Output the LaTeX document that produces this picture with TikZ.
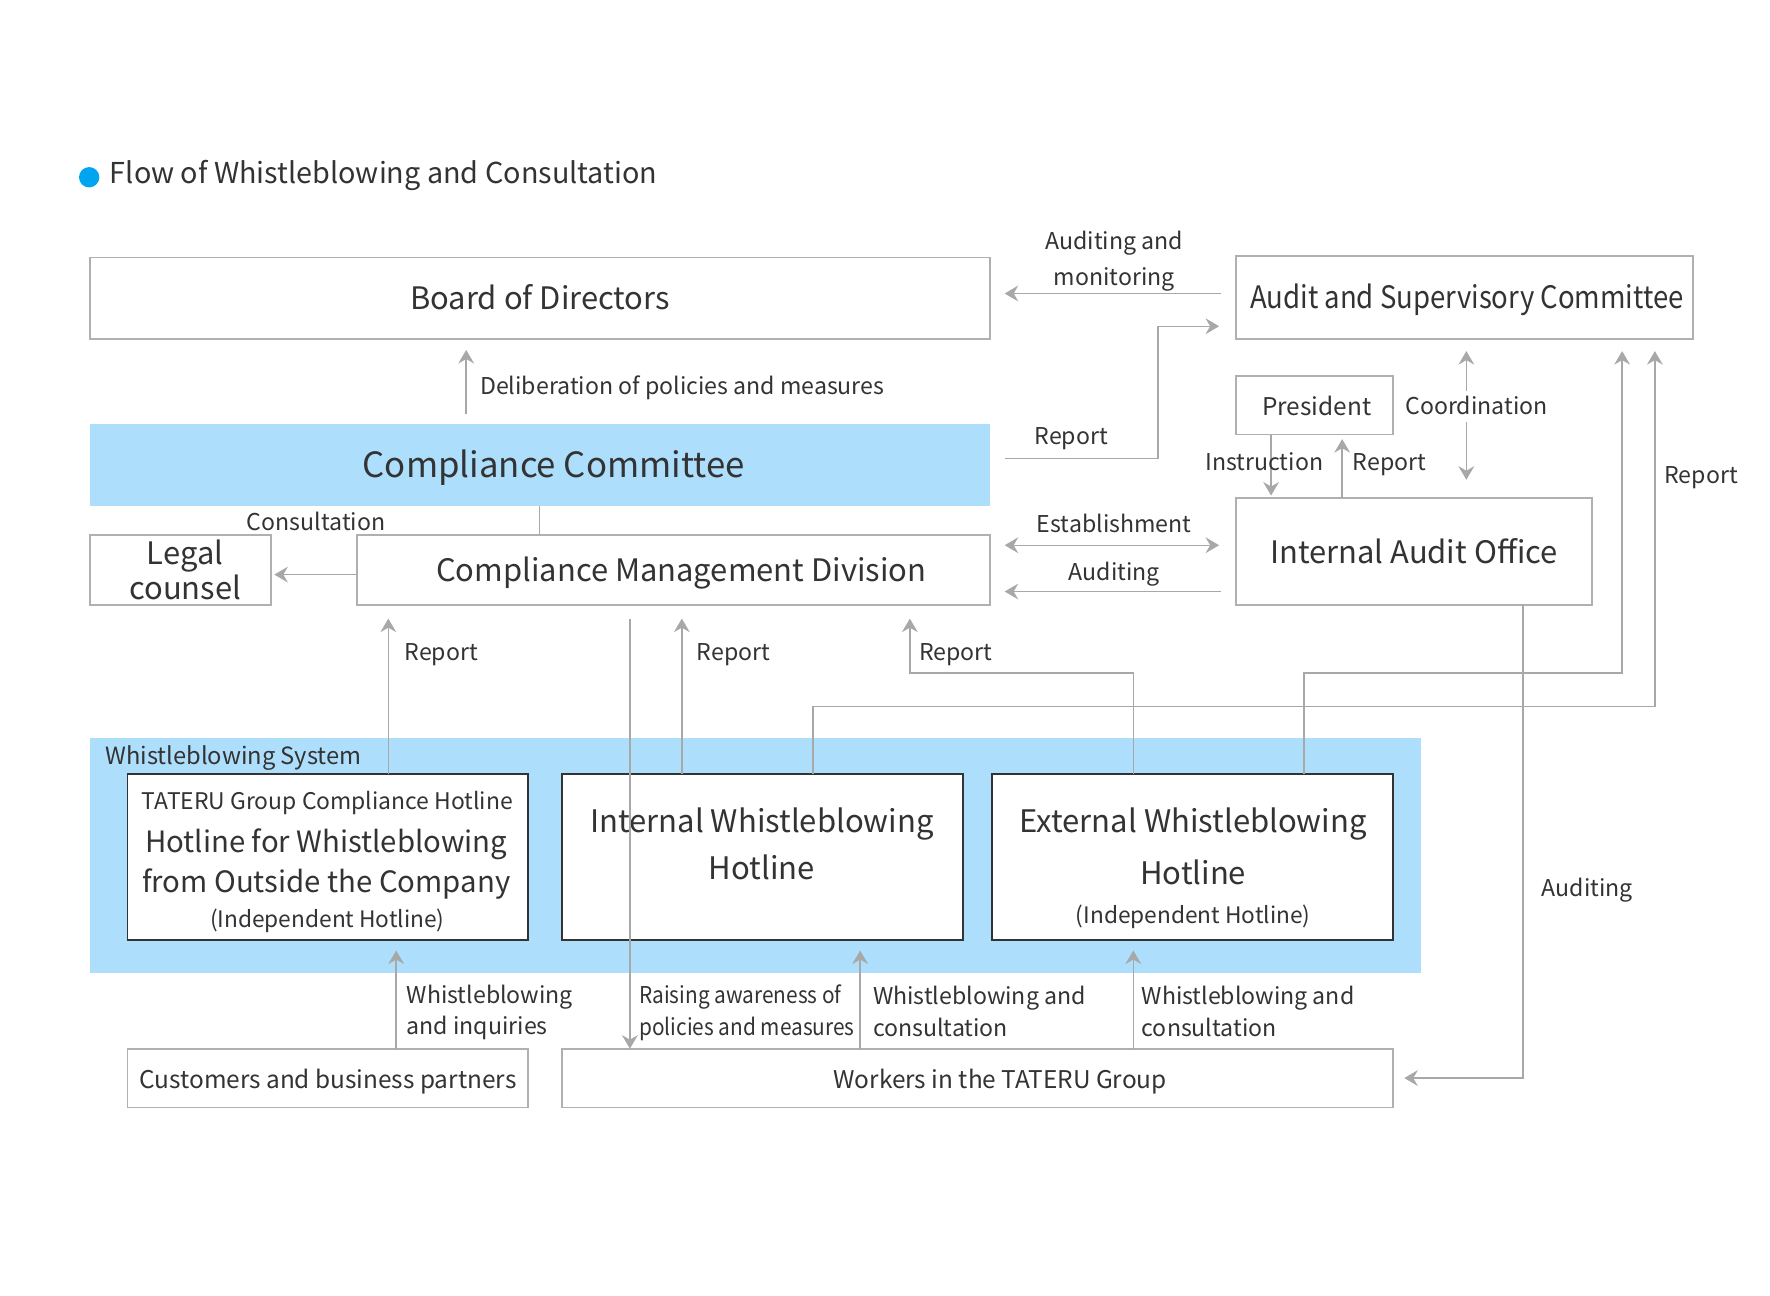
\documentclass[tikz,border=0pt]{standalone}
\usepackage{fontspec}
\setmainfont{Noto Sans CJK JP}
\newfontfamily\condfont[FakeStretch=0.90]{Noto Sans CJK JP}
\newfontfamily\auditfont[FakeStretch=0.89]{Noto Sans CJK JP}
\usetikzlibrary{arrows.meta}
\definecolor{txt}{HTML}{333333}
\definecolor{lncol}{HTML}{A8A8A8}
\definecolor{bx}{HTML}{B0B0B0}
\definecolor{lb}{HTML}{ADDFFD}
\definecolor{dot}{HTML}{00A5F2}
\begin{document}
\begin{tikzpicture}[x=0.5pt,y=-0.5pt,
  box/.style={draw=bx, line width=0.75pt, fill=white, inner sep=0pt, outer sep=0pt, text=txt},
  hbox/.style={draw=txt, line width=0.8pt, fill=white, inner sep=0pt, outer sep=0pt},
  lblm/.style={text=txt, inner sep=0pt, font=\fontsize{10.25}{14}\selectfont},
  lbl/.style={lblm, text height=0.75em, text depth=0pt},
  bigf/.style={font=\fontsize{13.7}{16}\selectfont, text height=1.0em, text depth=0pt},
  smallbox/.style={font=\fontsize{10.8}{13}\selectfont, text height=0.95em, text depth=0pt},
  conn/.style={draw=lncol, line width=0.65pt},
  arr/.style={conn, -{Stealth[length=6pt,width=7pt,inset=2pt]}},
  darr/.style={conn, {Stealth[length=6pt,width=7pt,inset=2pt]}-{Stealth[length=6pt,width=7pt,inset=2pt]}},
]
\useasboundingbox (0,0) rectangle (1568,1148);

% title
\node[circle, fill=dot, minimum size=9pt, inner sep=0pt] (bullet) at (79,157) {};
\node[anchor=west, text=txt, inner sep=0pt, font=\fontsize{12.75}{15}\selectfont, text height=0.75em, text depth=0pt] (title) at (97,155) {Flow of Whistleblowing and Consultation};

% top boxes
\node[box, bigf, minimum width=398.5pt, minimum height=36pt] (board) at (478.5,264) {Board of Directors};
\node[box, bigf, text height=1.0em, font=\auditfont\fontsize{13.7}{16}\selectfont, minimum width=202.5pt, minimum height=36.5pt] (audit) at (1297.5,263.5) {\hspace*{2pt}Audit and Supervisory Committee};
\node[fill=lb, text=txt, inner sep=0pt, font=\fontsize{15.4}{18}\selectfont, text height=1.12em, text depth=0pt, minimum width=398.5pt, minimum height=36pt] (cc) at (478.5,412) {\hspace*{12pt}Compliance Committee};
\node[box, align=center, font=\fontsize{13.7}{15.5}\selectfont, minimum width=80pt, minimum height=31pt] (legal) at (160,505) {\hspace*{4pt}Legal\\\hspace*{4pt}counsel};
\node[box, bigf, text height=1.05em, minimum width=280.5pt, minimum height=31pt] (cmd) at (596.5,505) {\hspace*{7pt}Compliance Management Division};
\node[box, bigf, text height=1.1em, minimum width=157.5pt, minimum height=47.5pt] (iao) at (1252.5,488.5) {Internal Audit Office};
\node[box, smallbox, minimum width=69.5pt, minimum height=26pt] (pres) at (1164.5,359) {\hspace*{2pt}President};

% whistleblowing system
\node[fill=lb, minimum width=589.5pt, minimum height=104pt, inner sep=0pt] (ws) at (669.5,758) {};
\node[lbl, anchor=west, font=\fontsize{10.5}{13}\selectfont] (wslbl) at (93,670) {Whistleblowing System};

% connectors at top
\draw[arr, shorten <=4.5pt, shorten >=5pt] (cc.north -| 413,0) -- (board.south -| 413,0);
\node[lbl, anchor=west] (delib) at (425,342) {Deliberation of policies and measures};
\draw[arr, shorten <=6.5pt, shorten >=6.5pt] (audit.west |- 0,260) -- (board.east |- 0,260);
\node[lblm, align=center, font=\fontsize{10.25}{16}\selectfont] (audmon) at (987,231) {Auditing and\\monitoring};
\draw[arr, shorten <=6.5pt, shorten >=7.5pt] (cc.east |- 0,406) -| (1026,289) -- (audit.west |- 0,289);
\node[lbl] (rep1) at (949,386) {Report};
\draw[conn] (cc.south -| 478,0) -- (cmd.north -| 478,0);
\node[lbl] (consult) at (280,462) {Consultation};
\draw[arr, shorten >=1.5pt] (cmd.west |- 0,509) -- (legal.east |- 0,509);
\draw[darr, shorten <=6.5pt, shorten >=7.5pt] (cmd.east |- 0,483) -- (iao.west |- 0,483);
\node[lbl] (estab) at (987,464) {Establishment};
\draw[arr, shorten <=6.5pt, shorten >=6.5pt] (iao.west |- 0,524) -- (cmd.east |- 0,524);
\node[lbl] (aud1) at (987,507) {Auditing};
\draw[arr, shorten >=1pt] (pres.south -| 1126,0) -- (iao.north -| 1126,0);
\node[lbl] (instr) at (1120,409) {Instruction};
\draw[arr, shorten >=2pt] (iao.north -| 1189,0) -- (pres.south -| 1189,0);
\node[lbl] (rep2) at (1231,409) {Report};
\draw[darr, shorten <=5.5pt, shorten >=8pt] (audit.south -| 1299,0) -- (iao.north -| 1299,0);
\node[lbl, fill=white, inner xsep=1pt, inner ysep=3pt] (coord) at (1308,360) {Coordination};

% hotline boxes
\node[hbox, minimum width=177.5pt, minimum height=73.5pt] (tateru) at (290.5,759.5) {};
\node[hbox, minimum width=177.5pt, minimum height=73.5pt] (iwh) at (675.5,759.5) {};
\node[hbox, minimum width=177.5pt, minimum height=73.5pt] (ewh) at (1056.5,759.5) {};
\node[lbl, font=\fontsize{10.15}{12}\selectfont] (t1) at (290,710) {TATERU Group Compliance Hotline};
\node[lblm, align=center, font=\fontsize{13}{17.5}\selectfont] (t2) at (289,765.5) {Hotline for Whistleblowing\\from Outside the Company};
\node[lbl, font=\fontsize{10.05}{12}\selectfont] (t3) at (290,814) {(Independent Hotline)};
\node[lblm, align=center, font=\fontsize{13.75}{21}\selectfont] (i1) at (675,747.5) {Internal Whistleblowing\\Hotline};
\node[lblm, align=center, font=\fontsize{13.75}{23}\selectfont] (e1) at (1057,750) {External Whistleblowing\\Hotline};
\node[lbl, font=\fontsize{10.05}{12}\selectfont] (e2) at (1057,811) {(Independent Hotline)};

% bottom boxes
\node[box, smallbox, minimum width=177.5pt, minimum height=26pt] (cust) at (290.5,955) {Customers and business partners};
\node[box, smallbox, minimum width=368pt, minimum height=26pt] (workers) at (866,955) {\hspace*{20pt}Workers in the TATERU Group};

% reports to committee and division
\draw[arr, shorten >=5.5pt] (ewh.north -| 1155,0) |- (1437,596) -- (audit.south -| 1437,0);
\draw[arr, shorten >=5.5pt] (iwh.north -| 720,0) |- (1466,626) -- (audit.south -| 1466,0);
\node[lbl] (rep3) at (1507,421) {Report};
\draw[arr, shorten >=5pt] (iao.south -| 1349,0) |- (workers.east |- 0,955);
\node[lbl] (aud2) at (1406,787) {Auditing};
\draw[arr, shorten >=6pt] (tateru.north -| 344,0) -- (cmd.south -| 344,0);
\node[lbl, anchor=west] (rep4) at (358,578) {Report};
\draw[arr, shorten >=6pt] (iwh.north -| 604,0) -- (cmd.south -| 604,0);
\node[lbl, anchor=west] (rep5) at (617,578) {Report};
\draw[arr, shorten >=6pt] (ewh.north -| 1004,0) |- (806,596) -- (cmd.south -| 806,0);
\node[lbl, anchor=west] (rep6) at (814,578) {Report};
\draw[arr, shorten <=6pt] (cmd.south -| 558,0) -- (workers.north -| 558,0);
\node[lblm, anchor=west, align=left, font=\condfont\fontsize{10.25}{14}\selectfont] (raise) at (566,897) {Raising awareness of\\policies and measures};

% bottom arrows
\draw[arr, shorten >=4.5pt] (cust.north -| 351,0) -- (tateru.south -| 351,0);
\node[lblm, anchor=west, align=left] (wbi) at (360,897) {Whistleblowing\\and inquiries};
\draw[arr, shorten >=4.5pt] (workers.north -| 762,0) -- (iwh.south -| 762,0);
\node[lblm, anchor=west, align=left] (wbc1) at (773,896) {Whistleblowing and\\consultation};
\draw[arr, shorten >=4.5pt] (workers.north -| 1004,0) -- (ewh.south -| 1004,0);
\node[lblm, anchor=west, align=left] (wbc2) at (1011,896) {Whistleblowing and\\consultation};
\end{tikzpicture}
\end{document}
